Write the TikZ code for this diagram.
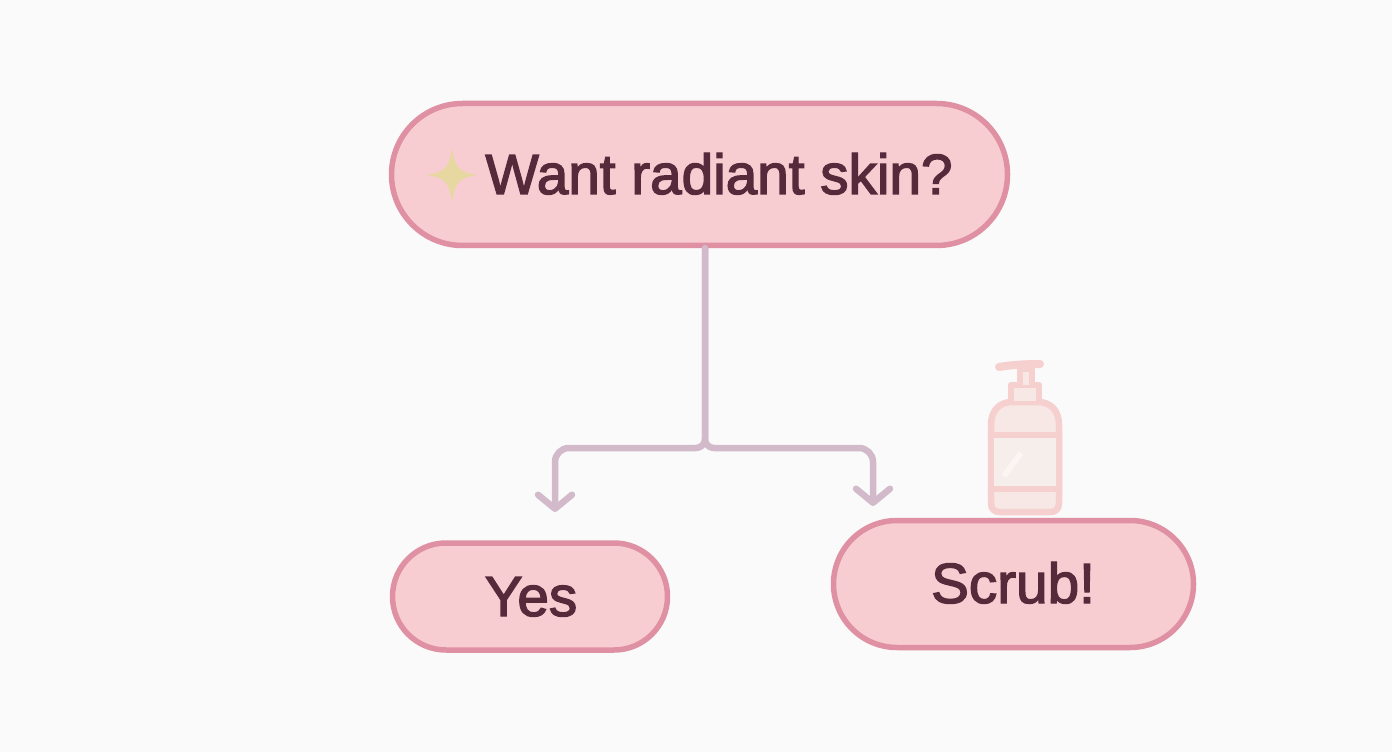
\documentclass[tikz,border=0pt]{standalone}
\usepackage{fontspec}
\setmainfont{Liberation Sans}[RawFeature={embolden=2.4}]
\usetikzlibrary{arrows.meta,shapes.misc}

\definecolor{page}{HTML}{FAFAFA}
\definecolor{pill fill}{HTML}{F8CDD2}
\definecolor{pill line}{HTML}{DF91A3}
\definecolor{ink}{HTML}{562A3A}
\definecolor{link line}{HTML}{D3BACB}
\definecolor{sparkle}{HTML}{E6D8A0}
\definecolor{bottle line}{HTML}{F6CFCF}
\definecolor{bottle fill}{HTML}{F7E8E6}
\definecolor{bottle label}{HTML}{F6EEEB}
\definecolor{bottle shine}{HTML}{FBF6F3}

\def\px{0.75pt}

\tikzset{
  pill/.style={rounded rectangle, draw=pill line, fill=pill fill, line width=5.5*\px, inner sep=0pt},
  caption/.style={inner sep=0pt, text=ink, font=\fontsize{42.5pt}{48pt}\selectfont, anchor=base},
  link/.style={draw=link line, line width=6.5*\px, line cap=round, line join=round,
    -{Straight Barb[length=14*\px, width=34*\px, round, line width=6.5*\px]}},
  bottle/.style={draw=bottle line, line width=6.5*\px, line cap=round, line join=round},
}

\begin{document}
\begin{tikzpicture}[x=\px, y=-\px]
\useasboundingbox[fill=page] (0,0) rectangle (1392,752);

% boxes
\node[pill, minimum width=616*\px, minimum height=142*\px] (question) at (699.5,174.5) {};
\node[pill, minimum width=275*\px, minimum height=107*\px] (yes) at (530,596.5) {};
\node[pill, minimum width=360*\px, minimum height=127*\px] (scrub) at (1013.5,584) {};

% texts
\node[caption] (questiontext) at (719,194) {Want radiant skin?};
\node[caption] (yestext) at (531,616) {Yes};
\node[caption] (scrubtext) at (1013,603) {Scrub!};

% sparkle
\fill[sparkle] (452,148) .. controls (455,168) and (459,172) .. (477,175)
  .. controls (459,178) and (455,182) .. (452,202)
  .. controls (449,182) and (445,178) .. (427,175)
  .. controls (445,172) and (449,168) .. (452,148) -- cycle;

% connectors
\coordinate (fork) at (705,448);
\coordinate (yesend) at (555,512);
\coordinate (scrubend) at (873,506);
\draw[link] (question.south -| fork) [rounded corners=9*\px] -- (fork) [rounded corners=14*\px] -| (yesend);
\draw[link] (question.south -| fork) [rounded corners=9*\px] -- (fork) [rounded corners=14*\px] -| (scrubend);

% bottle
\draw[bottle, fill=bottle fill] (991,425) .. controls (991,410) and (1000,402) .. (1012,402)
  -- (1038,402) .. controls (1050,402) and (1059,410) .. (1059,425)
  -- (1059,503) .. controls (1059,509) and (1056,512) .. (1050,512)
  -- (1000,512) .. controls (994,512) and (991,509) .. (991,503) -- cycle;
\fill[bottle label] (991,435) rectangle (1059,489);
\draw[bottle] (991,435) -- (1059,435);
\draw[bottle] (991,489) -- (1059,489);
\draw[bottle] (991,435) -- (991,489);
\draw[bottle] (1059,435) -- (1059,489);
\draw[bottle, fill=bottle fill] (1011,401) -- (1011,385) -- (1039,385) -- (1039,401);
\draw[bottle, fill=bottle fill] (1020,385) -- (1020,369) -- (1032,369) -- (1032,385);
\draw[bottle, line width=8*\px] (999,367) .. controls (1010,365) and (1025,364) .. (1040,364);
\draw[bottle shine, line width=5.5*\px, line cap=butt] (1004,476) -- (1021,453);
\end{tikzpicture}
\end{document}
